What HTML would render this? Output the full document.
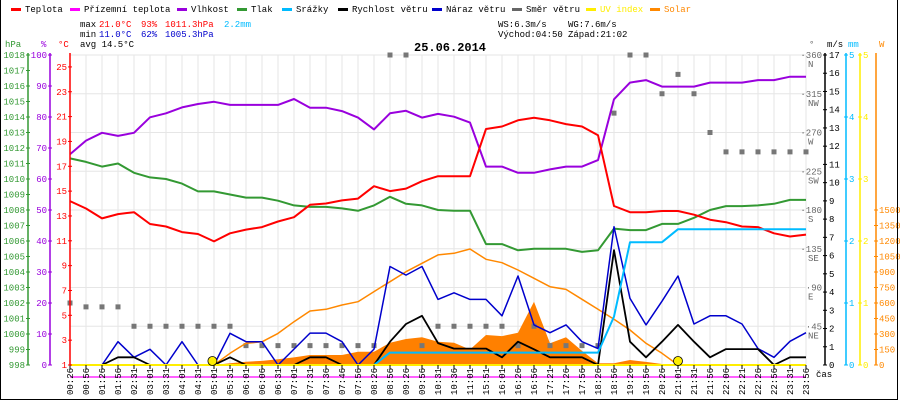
<!DOCTYPE html>
<html><head><meta charset="utf-8"><style>
body{margin:0;background:#fff}
svg{display:block;font-family:"Liberation Mono",monospace}
</style></head><body>
<svg id="c" width="900" height="400" xmlns="http://www.w3.org/2000/svg">
<rect x="0" y="0" width="900" height="400" fill="#fff"/>
<g id="grid"></g>
<g id="marks"></g>
<g id="axes"></g>
<g id="legend" font-size="9"></g>
<g font-size="9">
<text x="80" y="27">max</text>
<text x="99" y="27" fill="#f00">21.0°C</text>
<text x="141" y="27" fill="#f00">93%</text>
<text x="165" y="27" fill="#f00">1011.3hPa</text>
<text x="224" y="27" fill="#00bbff">2.2mm</text>
<text x="80" y="37">min</text>
<text x="99" y="37" fill="#00c">11.0°C</text>
<text x="141" y="37" fill="#00c">62%</text>
<text x="165" y="37" fill="#00c">1005.3hPa</text>
<text x="80" y="47">avg 14.5°C</text>
<text x="498" y="27">WS:6.3m/s</text>
<text x="568" y="27">WG:7.6m/s</text>
<text x="498" y="37">Východ:04:50</text>
<text x="568" y="37">Západ:21:02</text>
<text x="414" y="51" font-size="12" font-weight="bold">25.06.2014</text>
</g>
</svg>
<script>
const times=["00:26","00:56","01:26","01:56","02:31","03:01","03:31","04:01","04:31","05:01","05:31","06:01","06:06","06:31","07:01","07:31","07:36","07:46","07:56","08:26","08:56","09:26","09:56","10:31","10:36","11:01","15:51","16:01","16:26","16:56","17:21","17:26","17:56","18:26","18:56","19:26","19:56","20:26","21:01","21:31","21:56","22:06","22:21","22:26","22:56","23:31","23:56"];
const temp=[14.2,13.6,12.8,13.15,13.3,12.35,12.15,11.7,11.55,10.95,11.6,11.9,12.1,12.55,12.9,13.9,14.0,14.25,14.4,15.4,15.0,15.2,15.8,16.2,16.2,16.2,20.0,20.2,20.7,20.9,20.7,20.4,20.2,19.5,13.8,13.3,13.3,13.4,13.4,13.1,12.7,12.5,12.15,12.1,11.6,11.35,11.5];
const humidity=[68,72.4,74.9,73.9,74.9,79.9,81.2,83.1,84.2,84.9,83.9,83.9,83.9,83.9,85.8,83,83,81.9,79.8,76,81.2,82,79.8,81,80.1,78.2,64,64,62,62,63.1,64,64,66.1,85.7,91.1,91.9,89.8,89.8,89.8,91.1,91.1,91.1,91.9,91.9,93,93];
const pressure=[1011.33,1011.1,1010.8,1011.0,1010.4,1010.1,1010.0,1009.7,1009.2,1009.2,1009.0,1008.8,1008.8,1008.6,1008.3,1008.2,1008.2,1008.1,1007.95,1008.3,1008.85,1008.4,1008.3,1008.0,1007.95,1007.95,1005.8,1005.8,1005.4,1005.5,1005.5,1005.5,1005.3,1005.4,1006.8,1006.7,1006.7,1007.1,1007.1,1007.5,1008.0,1008.25,1008.25,1008.3,1008.4,1008.65,1008.65];
const windSpeed=[0,0,0,0.42,0.42,0,0,0,0,0,0.42,0,0,0,0,0.42,0.42,0,0,0,1.28,2.25,2.7,1.2,0.9,0.9,0.9,0.42,1.28,0.86,0.42,0.42,0.42,0,6.3,1.28,0.42,1.28,2.2,1.28,0.42,0.87,0.87,0.87,0,0.42,0.42];
const windGust=[0,0,0,1.28,0.42,0.86,0,1.28,0,0,1.74,1.28,1.28,0,0.87,1.75,1.75,1.28,0,0.87,5.4,4.93,5.4,3.6,3.96,3.6,3.6,2.7,4.88,2.2,1.77,2.2,1.28,0.9,7.58,3.65,2.2,3.5,4.88,2.25,2.7,2.7,2.25,0.9,0.42,1.3,1.77];
const rainStart=19;
const rain=[0,0,0,0,0,0,0,0,0,0,0,0,0,0,0,0,0,0,0,0,0.2,0.2,0.2,0.2,0.2,0.2,0.2,0.2,0.2,0.2,0.2,0.2,0.2,0.2,0.78,1.98,1.98,1.98,2.19,2.19,2.19,2.19,2.19,2.19,2.19,2.19,2.19];
const windDir=[72,67.5,67.5,67.5,45,45,45,45,45,45,45,22.5,22.5,22.5,22.5,22.5,22.5,22.5,22.5,22.5,360,360,22.5,45,45,45,45,45,22.5,45,22.5,22.5,22.5,22.5,292.5,360,360,315,337.5,315,270,247.5,247.5,247.5,247.5,247.5,247.5];
const solarMax=[null,null,null,null,null,null,null,null,null,0,113,210,225,306,419,523,539,581,613,710,806,903,984,1065,1081,1123,1023,990,919,839,758,732,636,539,442,339,210,113,0,null,null,null,null,null,null,null,null];
const solar=[0,0,0,0,0,0,0,0,0,0,16,32,40,55,74,97,97,97,129,129,216,252,268,225,215,150,290,280,313,613,210,268,136,16,16,48,30,10,0,0,0,0,0,0,0,0,0];
const sunEvents=[8.9,38];
const hpaTicks=[998,999,1000,1001,1002,1003,1004,1005,1006,1007,1008,1009,1010,1011,1012,1013,1014,1015,1016,1017,1018];
const pctTicks=[0,10,20,30,40,50,60,70,80,90,100];
const tempTicks=[1,3,5,7,9,11,13,15,17,19,21,23,25];
const dirTicks=[45,90,135,180,225,270,315,360];
const dirNames=["NE","E","SE","S","SW","W","NW","N"];
const msTicks=[0,1,2,3,4,5,6,7,8,9,10,11,12,13,14,15,16,17];
const mmTicks=[0,1,2,3,4,5];
const wTicks=[0,150,300,450,600,750,900,1050,1200,1350,1500];

const NS="http://www.w3.org/2000/svg";
const X0=70,DX=16,Y0=365,H=310;
const xs=i=>X0+i*DX;
const yT=v=>Y0-(v-1)*12.42;
const yP=v=>Y0-(v-998)*H/20;
const yH=v=>Y0-v*H/100;
const yMS=v=>Y0-v*H/17;
const yMM=v=>Y0-v*62;
const yDir=v=>Y0-v*H/360;
const yW=v=>Y0-v*155/1500;
function mk(t,a,p){const e=document.createElementNS(NS,t);for(const k in a)e.setAttribute(k,a[k]);(p||document.getElementById('marks')).appendChild(e);return e;}
const grid=document.getElementById('grid'),axes=document.getElementById('axes'),legend=document.getElementById('legend');
times.forEach((t,i)=>{const l=mk('line',{x1:xs(i),x2:xs(i),y1:Y0-H,y2:Y0+3,stroke:'#e6e6e6'},grid);


const tk=mk('line',{x1:xs(i),x2:xs(i),y1:Y0,y2:Y0+4,stroke:'#000'},axes);


const tx=mk('text',{x:0,y:0,'font-size':9,'text-anchor':'start',transform:`translate(${xs(i)+3},395) rotate(-90)`},axes);
tx.textContent=t;

});
for(let k=0;k<=8;k++){const l=mk('line',{x1:X0,x2:806,y1:Y0-k*H/8,y2:Y0-k*H/8,stroke:'#e6e6e6'},grid);

}
function line(vals,yf,color,w,name,start){let d='';vals.forEach((v,i)=>{if(v===null||(start!==undefined&&i<start))return;d+=(d?'L':'M')+xs(i)+','+yf(v).toFixed(1);});
const p=mk('path',{d:d,fill:'none',stroke:color,'stroke-width':w,'stroke-linejoin':'round'});

}
{let d='M'+xs(0)+','+Y0;solar.forEach((v,i)=>{d+='L'+xs(i)+','+yW(v).toFixed(1);});d+='L'+xs(solar.length-1)+','+Y0+'Z';
const p=mk('path',{d:d,fill:'#ff8000'});

}
windDir.forEach((v,i)=>{const r=mk('rect',{x:xs(i)-2.5,y:yDir(v)-2.5,width:5,height:5,fill:'#777'});

});
line(solarMax,yW,'#ff8800',1.5,'solar-max-line');
line(humidity,yH,'#9900dd',2,'humidity-line');
line(pressure,yP,'#339933',2,'pressure-line');
line(temp,yT,'#ff0000',2,'temperature-line');
line(windGust,yMS,'#0000cc',1.5,'wind-gust-line');
line(windSpeed,yMS,'#000',1.8,'wind-speed-line');
line(rain,yMM,'#00bbff',2,'rain-line',rainStart);
{const u=mk('line',{x1:X0,x2:806,y1:Y0,y2:Y0,stroke:'#ffee00','stroke-width':2});


const m=mk('line',{x1:X0,x2:806,y1:377,y2:377,stroke:'#ff00ff','stroke-width':1.2});

}
sunEvents.forEach(i=>{const c=mk('circle',{cx:xs(i),cy:Y0-4,r:4.5,fill:'#ffee00',stroke:'#000','stroke-width':0.8});

});
function vaxis(x,color,ticks,yf,lx,anchor,name){const l=mk('line',{x1:x,x2:x,y1:Y0-H-2,y2:Y0,stroke:color,'stroke-width':1.5},axes);


ticks.forEach(v=>{const y=yf(v);const t=mk('line',{x1:x-2,x2:x+2,y1:y,y2:y,stroke:color},axes);


const tx=mk('text',{x:lx,y:y+3,'font-size':9,fill:color,'text-anchor':anchor},axes);tx.textContent=v;

});}
vaxis(28,'#339933',hpaTicks,yP,25,'end','pressure');
vaxis(50,'#9900dd',pctTicks,yH,47,'end','humidity');
vaxis(70,'#ff0000',tempTicks,yT,67,'end','temperature');
vaxis(825,'#000',msTicks,yMS,829,'start','wind-speed');
vaxis(846,'#00bbff',mmTicks,yMM,849,'start','rain');
vaxis(860,'#ffee00',mmTicks,yMM,863,'start','uv');
{const l=mk('line',{x1:876,x2:876,y1:Y0-H-2,y2:Y0,stroke:'#ff8800','stroke-width':1.5},axes);


wTicks.forEach(v=>{const y=yW(v);const t=mk('line',{x1:874,x2:878,y1:y,y2:y,stroke:'#ff8800'},axes);


const tx=mk('text',{x:879,y:y+3,'font-size':9,fill:'#ff8800'},axes);tx.textContent=v;

});}
dirTicks.forEach((v,k)=>{const y=yDir(v);const t=mk('text',{x:822,y:y+3,'font-size':9,fill:'#666','text-anchor':'end'},axes);t.textContent='·'+v;


const n=mk('text',{x:808,y:y+12,'font-size':9,fill:'#666'},axes);n.textContent=dirNames[k];

});
[[5,'hPa','#339933'],[41,'%','#9900dd'],[58,'°C','#ff0000'],[809,'°','#666'],[827,'m/s','#000'],[848,'mm','#00bbff'],[879,'W','#ff8800'],[816,'čas','#000']].forEach((a,k)=>{
const t=mk('text',{x:a[0],y:k==7?377:47,'font-size':9,fill:a[2]},axes);t.textContent=a[1];

});
{const b=mk('path',{d:'M0.5,0V399.5H897.5V0',fill:'none',stroke:'#000'},axes);

}
[[11,'Teplota','#ff0000'],[70,'Přízemní teplota','#ff00ff'],[177,'Vlhkost','#9900dd'],[237,'Tlak','#339933'],[282,'Srážky','#00bbff'],[338,'Rychlost větru','#000'],[432,'Náraz větru','#0000cc'],[512,'Směr větru','#666'],[586,'UV index','#ffee00'],[650,'Solar','#ff8800']].forEach(a=>{
const s=mk('rect',{x:a[0],y:8,width:10,height:3,fill:a[2]},legend);


const t=mk('text',{x:a[0]+14,y:12,fill:(a[2]=='#ffee00'||a[2]=='#ff8800')?a[2]:'#000'},legend);t.textContent=a[1];

});
</script>
</body></html>
